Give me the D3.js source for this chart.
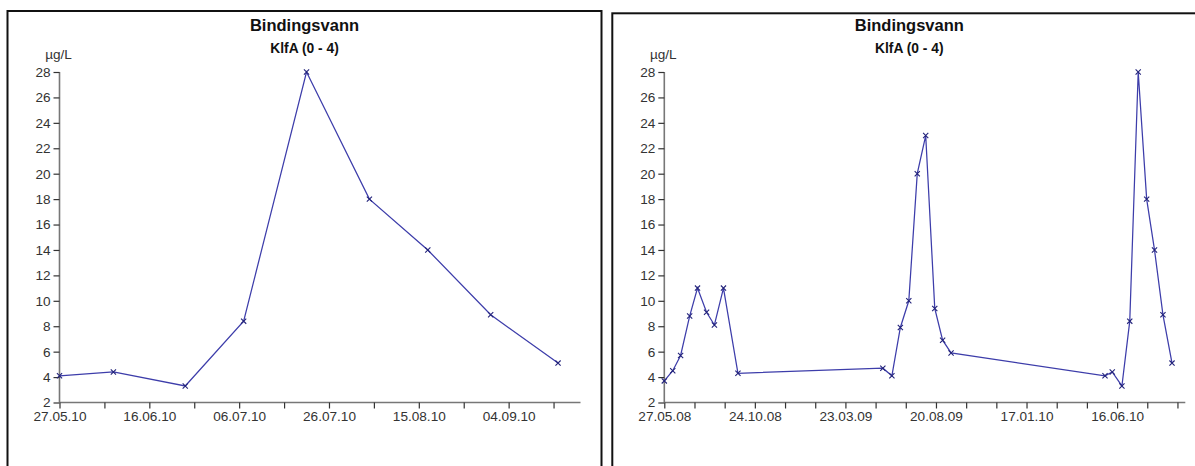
<!DOCTYPE html>
<html>
<head>
<meta charset="utf-8">
<title>Bindingsvann KlfA</title>
<script src="https://d3js.org/d3.v7.min.js"></script>
<style>
  body {margin: 0; background: #fff;}
  text {font-family: "Liberation Sans", Arial, sans-serif;}
  .tick text {fill: #333; font-size: 13.6px;}
</style>
</head>
<body>
<svg id="chart" width="1195" height="466"></svg>
<script>
// sampling dates and values
var dates2008 = ["27.05.08","10.06.08","23.06.08","08.07.08","21.07.08","05.08.08","18.08.08","02.09.08","26.09.08"];
var values2008 = [3.7, 4.5, 5.7, 8.8, 11.0, 9.1, 8.1, 11.0, 4.3];
var dates2009 = ["24.05.09","08.06.09","22.06.09","06.07.09","20.07.09","03.08.09","18.08.09","31.08.09","14.09.09"];
var values2009 = [4.7, 4.1, 7.9, 10.0, 20.0, 23.0, 9.4, 6.9, 5.9];
var dates2010 = ["27.05.10","08.06.10","24.06.10","07.07.10","21.07.10","04.08.10","17.08.10","31.08.10","15.09.10"];
var values2010 = [4.1, 4.4, 3.3, 8.4, 28, 18, 14, 8.9, 5.1];

var yTicks = [2,4,6,8,10,12,14,16,18,20,22,24,26,28];
var leftTickLabels = ["27.05.10","16.06.10","06.07.10","26.07.10","15.08.10","04.09.10"];
var rightTickLabels = ["27.05.08","24.10.08","23.03.09","20.08.09","17.01.10","16.06.10"];

var title = "Bindingsvann";
var subtitle = "KlfA (0 - 4)";
var unit = "µg/L";

var parse = d3.timeParse("%d.%m.%y");
var fmt = d3.timeFormat("%d.%m.%y");

function rows(ds, vs) {
  return ds.map(function(d, i) { return {date: parse(d), value: vs[i]}; });
}

var svg = d3.select("#chart");

function panel(fx, fy, data, start, end, stepDays, tickLabels) {
  var g = svg.append("g");
  // frame
  g.append("rect").attr("x", fx).attr("y", fy).attr("width", 594).attr("height", 500)
    .attr("fill", "none").attr("stroke", "#111").attr("stroke-width", 2);

  var cx = fx + 297;
  g.append("text").attr("x", cx).attr("y", 31).attr("text-anchor", "middle")
    .style("font-size", "16.5px").style("font-weight", "bold").attr("fill", "#111").text(title);
  g.append("text").attr("x", cx).attr("y", 53).attr("text-anchor", "middle")
    .style("font-size", "13.8px").style("font-weight", "bold").attr("fill", "#111").text(subtitle);

  var x0 = fx + 52, x1 = fx + 573;
  var x = d3.scaleTime().domain([parse(start), parse(end)]).range([x0, x1]);
  var y = d3.scaleLinear().domain([2, 28]).range([402.5, 72]);

  g.append("text").attr("x", x0 - 1).attr("y", 59).attr("text-anchor", "middle")
    .style("font-size", "13.6px").attr("fill", "#333").text(unit);

  var ticks = [];
  for (var t = parse(start); t <= parse(end); t = d3.timeDay.offset(t, stepDays)) ticks.push(t);

  var xAxis = g.append("g").attr("transform", "translate(0,402.5)")
    .call(d3.axisBottom(x).tickValues(ticks).tickSize(6).tickPadding(3)
      .tickFormat(function(d) { var s = fmt(d); return tickLabels.indexOf(s) >= 0 ? s : ""; }));
  var yAxis = g.append("g").attr("transform", "translate(" + x0 + ",0)")
    .call(d3.axisLeft(y).tickValues(yTicks).tickSize(6).tickPadding(3));

  [xAxis, yAxis].forEach(function(a) {
    a.select(".domain").attr("stroke", "#777").attr("stroke-width", 1.6);
    a.selectAll(".tick line").attr("stroke", "#333").attr("stroke-width", 1.2);
    a.selectAll(".tick text").attr("fill", "#333");
  });
  xAxis.select(".domain").attr("d", "M" + x0 + ",0H" + x1);
  yAxis.select(".domain").attr("d", "M0," + y(28) + "V" + y(2));

  var line = d3.line().x(function(d) { return x(d.date); }).y(function(d) { return y(d.value); });
  g.append("path").datum(data).attr("d", line)
    .attr("fill", "none").attr("stroke", "#3d3daa").attr("stroke-width", 1.25);

  g.selectAll(".mark").data(data).enter().append("path").attr("class", "mark")
    .attr("d", function(d) {
      var px = x(d.date), py = y(d.value), r = 2.6;
      return "M" + (px - r) + "," + (py - r) + "L" + (px + r) + "," + (py + r) +
             "M" + (px - r) + "," + (py + r) + "L" + (px + r) + "," + (py - r);
    })
    .attr("stroke", "#22227a").attr("stroke-width", 1.1).attr("fill", "none");
}

panel(7.5, 11, rows(dates2010, values2010), "27.05.10", "20.09.10", 10, leftTickLabels);
panel(612.3, 13.3, rows(dates2008.concat(dates2009, dates2010), values2008.concat(values2009, values2010)),
      "27.05.08", "07.10.10", 50, rightTickLabels);
</script>
</body>
</html>
